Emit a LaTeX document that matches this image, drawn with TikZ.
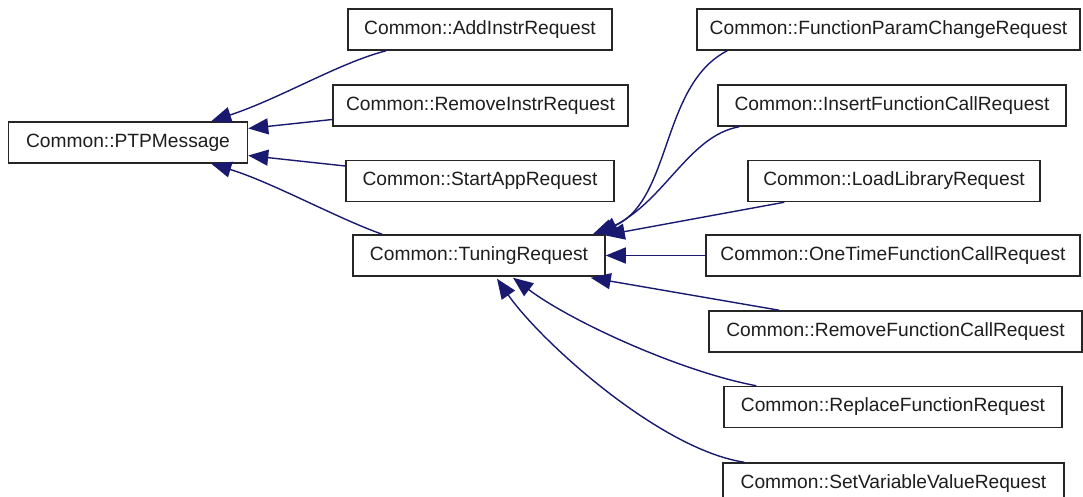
\documentclass[tikz,border=0pt]{standalone}
\usepackage{fontspec}
\setmainfont{Liberation Sans}
\usetikzlibrary{arrows.meta,calc}
\definecolor{edgec}{RGB}{25,25,112}
\definecolor{txt}{RGB}{30,30,30}
\begin{document}
\begin{tikzpicture}[x=0.5pt,y=-0.5pt,
  cls/.style={draw=black!85,line width=0.75pt,fill=white,minimum height=20.5pt,inner sep=0pt,
    font=\fontsize{9.6pt}{11pt}\selectfont,text=txt},
  inh/.style={draw=edgec,line width=0.7pt,-{Triangle[length=10pt,width=8pt]}}]
\useasboundingbox (0,0) rectangle (1083,497);
\node[cls,minimum width=119.5pt] (ptp) at (128,142.5) {Common::PTPMessage};
\node[cls,minimum width=132pt] (add) at (480,29.5) {Common::AddInstrRequest};
\node[cls,minimum width=147.5pt] (rmi) at (480.5,105.5) {Common::RemoveInstrRequest};
\node[cls,minimum width=134pt] (start) at (480,181) {Common::StartAppRequest};
\node[cls,minimum width=126pt] (tun) at (479,255.5) {Common::TuningRequest};
\node[cls,minimum width=191.5pt] (fpc) at (888.5,29.5) {Common::FunctionParamChangeRequest};
\node[cls,minimum width=174pt] (ifc) at (892,105.5) {Common::InsertFunctionCallRequest};
\node[cls,minimum width=146pt] (ll) at (894,181) {Common::LoadLibraryRequest};
\node[cls,minimum width=187pt] (otf) at (893,255.5) {Common::OneTimeFunctionCallRequest};
\node[cls,minimum width=186.5pt] (rfc) at (895.5,331.5) {Common::RemoveFunctionCallRequest};
\node[cls,minimum width=169pt] (rf) at (893,407) {Common::ReplaceFunctionRequest};
\node[cls,minimum width=170.5pt] (sv) at (893.5,483.5) {Common::SetVariableValueRequest};

\draw[inh] ($(add.south west)+(39,0)$) .. controls +(-47,12) and +(69.5,-23) .. ($(ptp.north east)+(-37,0)$);
\draw[inh] ($(rmi.west)+(0,14)$) -- ($(ptp.east)+(0,-14)$);
\draw[inh] ($(start.west)+(0,-15)$) -- ($(ptp.east)+(0,13)$);
\draw[inh] ($(tun.north west)+(30,0)$) .. controls +(-43,-15) and +(59.5,18) .. ($(ptp.south east)+(-37,0)$);

\draw[inh] ($(fpc.south west)+(31,0)$) .. controls +(-68,35) and +(80,-30) .. ($(tun.north east)+(-13,0)$);
\draw[inh] ($(ifc.south west)+(22,0)$) .. controls +(-50,9) and +(68,-35) .. ($(tun.north east)+(-8,0)$);
\draw[inh] ($(ll.south west)+(37,0)$) -- ($(tun.north east)+(-1,1)$);
\draw[inh] (otf.west) -- (tun.east);
\draw[inh] ($(rfc.north west)+(71,0)$) -- ($(tun.south east)+(-15,1)$);
\draw[inh] ($(rf.north west)+(33,0)$) .. controls +(-77,-14.5) and +(57,43) .. ($(tun.south)+(34,1)$);
\draw[inh] ($(sv.north west)+(22,0)$) .. controls +(-85,-13) and +(43,62) .. ($(tun.south)+(18,2)$);
\end{tikzpicture}
\end{document}
